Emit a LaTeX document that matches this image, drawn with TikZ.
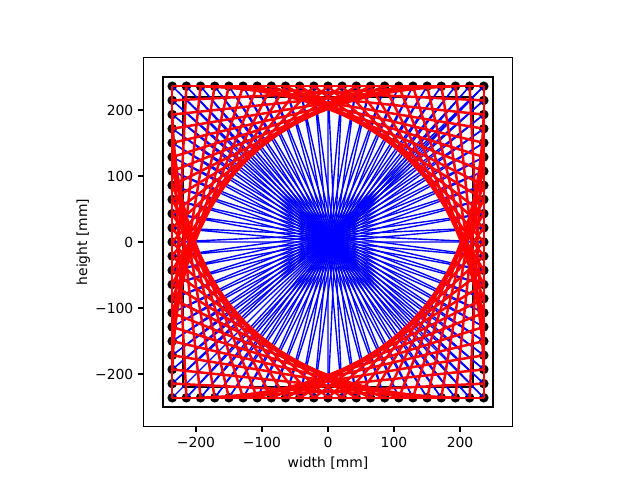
\documentclass[tikz,border=0pt]{standalone}
\usepackage{fontspec}
\setmainfont{DejaVu Sans}
\begin{document}
\begin{tikzpicture}[x=1pt,y=1pt,
  bluestr/.style={draw={rgb,1:red,0;green,0;blue,1}, line width=1.39pt},
  redstr/.style={draw={rgb,1:red,1;green,0;blue,0}, line width=2.5pt},
  boardline/.style={draw=black, line width=2.08pt},
  axframe/.style={draw=black, line width=1.11pt},
  ticklab/.style={inner sep=0pt, font=\fontsize{13.89}{16}\selectfont},
  axlab/.style={inner sep=0pt, font=\fontsize{13.89}{16}\selectfont}]
\useasboundingbox (0,0) rectangle (640,480);
\fill[white] (0,0) rectangle (640,480);
\begin{scope}[shift={(328,238)}, x=0.66pt, y=0.66pt]
  % nails
  \foreach \i in {0,...,87}{
    \pgfmathtruncatemacro\side{int(\i/22)}
    \pgfmathsetmacro\t{(\i-22*\side)*472/22}
    \ifcase\side
      \coordinate (n\i) at (-236+\t, -236);
    \or
      \coordinate (n\i) at (236, -236+\t);
    \or
      \coordinate (n\i) at (236-\t, 236);
    \else
      \coordinate (n\i) at (-236, 236-\t);
    \fi
  }
  % axes frame
  \draw[axframe] (-280,-280) rectangle (280,280);
  % board
  \draw[boardline] (-250,-250) rectangle (250,250);
  \draw[boardline, line width=1.6pt] (-220,-220) rectangle (220,220);
  % nails
  \foreach \i in {0,...,87}{ \fill[black] (n\i) circle (4.8pt); }
  % blue thread: across and back, one nail further each time
  \foreach \i in {0,...,43}{
    \pgfmathtruncatemacro\j{\i+44}
    \pgfmathtruncatemacro\k{mod(\i+1,88)}
    \draw[bluestr] (n\i) -- (n\j) -- (n\k);
  }
  % red thread
  \foreach \i in {0,...,87}{
    \pgfmathtruncatemacro\j{mod(\i+21,88)}
    \draw[redstr] (n\i) -- (n\j);
  }
  % ticks and labels
  \foreach \v/\l in {-200/−200,-100/−100,0/0,100/100,200/200}{
    \draw[line width=1.11pt] (\v,-280) -- ++(0,-4.86pt);
    \node[ticklab, anchor=center, yshift=-16pt] (xl\v) at (\v,-280) {\l};
    \draw[line width=1.11pt] (-280,\v) -- ++(-4.86pt,0);
    \node[ticklab, anchor=east, xshift=-9.72pt] (yl\v) at (-280,\v) {\l};
  }
  \node[axlab, yshift=-36pt] (xlabel) at (0,-280) {width [mm]};
  \node[axlab, rotate=90, yshift=60pt] (ylabel) at (-280,0) {height [mm]};
\end{scope}
\end{tikzpicture}
\end{document}
